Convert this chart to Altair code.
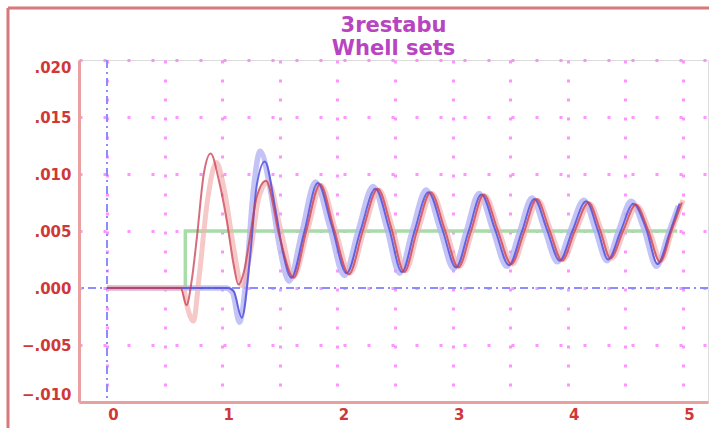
import altair as alt
import pandas as pd

# ---------------- data ----------------
# wheelset lines (time [s], lateral displacement [m])
blue_dark_t = [0, 1.05, 1.10, 1.17, 1.24, 1.30, 1.37, 1.46, 1.53, 1.60, 1.71, 1.83, 1.95, 2.08, 2.20,
               2.33, 2.45, 2.56, 2.67, 2.79, 2.91, 3.03, 3.14, 3.25, 3.37, 3.49, 3.60, 3.71, 3.82,
               3.93, 4.04, 4.16, 4.26, 4.35, 4.46, 4.57, 4.68, 4.78, 4.88, 4.97]
blue_dark_y = [0, 0, -0.0003, -0.0026, 0.0025, 0.0090, 0.0111, 0.0070, 0.0030, 0.0009, 0.0048, 0.0092,
               0.0055, 0.0013, 0.0050, 0.0087, 0.0052, 0.0014, 0.0050, 0.0084, 0.0052, 0.0018, 0.0050,
               0.0082, 0.0051, 0.0020, 0.0049, 0.0078, 0.0051, 0.0024, 0.0050, 0.0076, 0.0051, 0.0025,
               0.0050, 0.0074, 0.0052, 0.0021, 0.0047, 0.0074]

blue_light_t = [0, 1.03, 1.09, 1.15, 1.21, 1.27, 1.33, 1.42, 1.50, 1.58, 1.69, 1.81, 1.93, 2.06, 2.18,
                2.31, 2.43, 2.54, 2.65, 2.77, 2.89, 3.01, 3.12, 3.23, 3.35, 3.47, 3.58, 3.69, 3.80,
                3.91, 4.02, 4.14, 4.24, 4.34, 4.44, 4.55, 4.66, 4.77, 4.87, 4.96]
blue_light_y = [0, 0, -0.0004, -0.0030, 0.0010, 0.0085, 0.0120, 0.0085, 0.0035, 0.0006, 0.0048, 0.0093,
                0.0055, 0.0011, 0.0050, 0.0089, 0.0052, 0.0013, 0.0050, 0.0086, 0.0052, 0.0017, 0.0050,
                0.0083, 0.0051, 0.0019, 0.0049, 0.0079, 0.0051, 0.0023, 0.0050, 0.0077, 0.0051, 0.0024,
                0.0050, 0.0076, 0.0052, 0.0019, 0.0047, 0.0072]

red_dark_t = [0, 0.64, 0.69, 0.74, 0.78, 0.84, 0.90, 0.97, 1.04, 1.10, 1.14, 1.19, 1.24, 1.30, 1.38,
              1.50, 1.62, 1.73, 1.85, 1.97, 2.10, 2.22, 2.35, 2.47, 2.58, 2.69, 2.81, 2.93, 3.05,
              3.16, 3.27, 3.39, 3.51, 3.62, 3.73, 3.84, 3.95, 4.06, 4.18, 4.28, 4.37, 4.48, 4.59,
              4.70, 4.80, 4.90, 4.99]
red_dark_y = [0, 0, -0.0015, 0.0010, 0.0044, 0.0100, 0.0118, 0.0095, 0.0059, 0.0020, 0.0003, 0.0015,
              0.0044, 0.0080, 0.0094, 0.0044, 0.0009, 0.0050, 0.0091, 0.0052, 0.0012, 0.0050, 0.0087,
              0.0052, 0.0014, 0.0050, 0.0084, 0.0052, 0.0018, 0.0050, 0.0082, 0.0051, 0.0021, 0.0049,
              0.0078, 0.0051, 0.0024, 0.0050, 0.0075, 0.0051, 0.0026, 0.0050, 0.0073, 0.0050, 0.0023,
              0.0050, 0.0075]

red_light_t = [0, 0.66, 0.70, 0.75, 0.80, 0.87, 0.95, 1.02, 1.10, 1.17, 1.25, 1.32, 1.40, 1.51, 1.62,
               1.74, 1.86, 1.98, 2.11, 2.23, 2.36, 2.48, 2.59, 2.70, 2.82, 2.94, 3.06, 3.17, 3.28,
               3.40, 3.52, 3.63, 3.74, 3.85, 3.96, 4.07, 4.19, 4.29, 4.38, 4.49, 4.60, 4.71, 4.81,
               4.91, 5.00]
red_light_y = [0, 0, -0.0018, -0.0029, 0.0010, 0.0075, 0.0110, 0.0085, 0.0035, 0.0002, 0.0035, 0.0080,
               0.0093, 0.0050, 0.0010, 0.0050, 0.0090, 0.0052, 0.0013, 0.0050, 0.0086, 0.0052, 0.0015,
               0.0050, 0.0083, 0.0052, 0.0019, 0.0050, 0.0081, 0.0051, 0.0021, 0.0049, 0.0077, 0.0051,
               0.0025, 0.0050, 0.0074, 0.0051, 0.0026, 0.0050, 0.0072, 0.0050, 0.0024, 0.0052, 0.0077]

# track input (step)
green_t = [0, 0.68, 4.95]
green_y = [0, 0.005, 0.005]

x_tick_values = [0, 0.5, 1, 1.5, 2, 2.5, 3, 3.5, 4, 4.5, 5]
y_tick_values = [-0.01, -0.0075, -0.005, -0.0025, 0, 0.0025, 0.005, 0.0075, 0.01, 0.0125, 0.015,
                 0.0175, 0.02]
title_lines = ["3restabu", "Whell sets"]

# ---------------- chart ----------------
def frame(t, y):
    return pd.DataFrame({"t": t, "y": y})

LABEL_RED = "#d03838"
X = alt.X("t:Q", title=None,
          scale=alt.Scale(domain=[-0.243, 5.217], nice=False, zero=False),
          axis=alt.Axis(values=x_tick_values,
                        labelExpr="datum.value % 1 === 0 ? format(datum.value, 'd') : ''",
                        labelColor=LABEL_RED, labelFont="DejaVu Sans", labelFontWeight="bold",
                        labelFontSize=15, labelPadding=5, labelOffset=6, labelFlush=False,
                        ticks=False, domainColor="#e8a0a0", domainWidth=3,
                        gridColor="#ff80ff", gridWidth=3, gridDash=[3, 16], gridOpacity=0.85))
Y = alt.Y("y:Q", title=None,
          scale=alt.Scale(domain=[-0.010, 0.020], nice=False, zero=False),
          axis=alt.Axis(values=y_tick_values,
                        labelExpr="abs(round(datum.value*10000)) % 50 === 0 ? replace(format(datum.value, '.3f'), '0.', '.') : ''",
                        labelColor=LABEL_RED, labelFont="DejaVu Sans", labelFontWeight="bold",
                        labelFontSize=15, labelPadding=8, labelFlush=True,
                        ticks=False, domainColor="#e8a0a0", domainWidth=3,
                        gridColor="#ff80ff", gridWidth=3, gridDash=[3, 21], gridOpacity=0.85))

one = pd.DataFrame({"a": [0]})

green = alt.Chart(frame(green_t, green_y)).mark_line(
    color="#a8dca8", strokeWidth=3.5, interpolate="step-after").encode(x=X, y=Y)

zero_v = alt.Chart(one).mark_rule(color="#8c8cff", strokeWidth=2, strokeDash=[8, 4, 2, 4]).encode(
    x=alt.datum(0))
zero_h = alt.Chart(one).mark_rule(color="#8c8cff", strokeWidth=2, strokeDash=[8, 4, 2, 4]).encode(
    y=alt.datum(0))

blue_light = alt.Chart(frame(blue_light_t, blue_light_y)).mark_line(
    color="#b4b4f4", strokeWidth=5.5, opacity=0.8, interpolate="monotone").encode(x=X, y=Y)
red_light = alt.Chart(frame(red_light_t, red_light_y)).mark_line(
    color="#f4b0b0", strokeWidth=5, opacity=0.7, interpolate="monotone").encode(x=X, y=Y)
blue_dark = alt.Chart(frame(blue_dark_t, blue_dark_y)).mark_line(
    color="#4848dc", strokeWidth=2, opacity=0.8, interpolate="monotone").encode(x=X, y=Y)
red_dark = alt.Chart(frame(red_dark_t, red_dark_y)).mark_line(
    color="#c83c50", strokeWidth=2, opacity=0.75, interpolate="monotone").encode(x=X, y=Y)

frame_top = alt.Chart(one).mark_rule(color="#d87878", strokeWidth=3).encode(
    x=alt.value(-71), x2=alt.value(640), y=alt.value(-52))
frame_left = alt.Chart(one).mark_rule(color="#d87878", strokeWidth=3).encode(
    x=alt.value(-71), y=alt.value(-52), y2=alt.value(380))

chart = alt.layer(
    green, zero_v, zero_h, blue_light, red_light, blue_dark, red_dark, frame_top, frame_left
).properties(
    width=629, height=342,
    title=alt.TitleParams(text=title_lines, fontSize=21, font="DejaVu Sans", fontWeight="bold",
                          color="#b844c0", anchor="middle", frame="group", offset=4, dy=56,
                          lineHeight=23),
    autosize=alt.AutoSizeParams(type="none"),
    padding={"left": 79, "top": 60, "right": 1, "bottom": 26},
).configure_view(stroke="#e8a8a8", strokeWidth=2).configure(background="white")

chart.save("out.html", embed_options={"renderer": "svg", "actions": False})
